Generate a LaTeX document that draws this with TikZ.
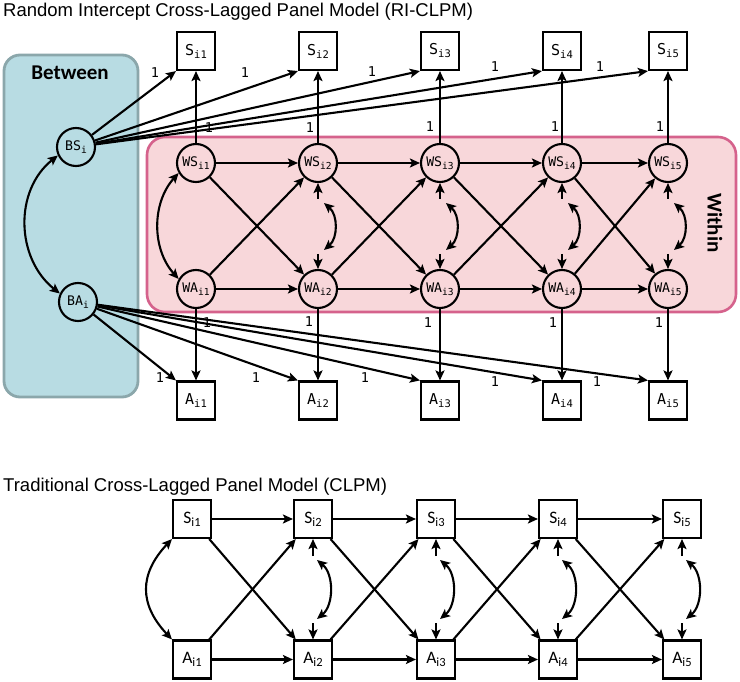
\documentclass[tikz,border=0pt]{standalone}
\usepackage{fontspec}
\setmainfont{Liberation Sans}
\newfontfamily\monof{DejaVu Sans Mono}
\newfontfamily\calf{Carlito}
\usetikzlibrary{arrows.meta,calc}
\definecolor{btwfill}{HTML}{B8DCE3}
\definecolor{btwline}{HTML}{8BA7AB}
\definecolor{winfill}{HTML}{F8D7DA}
\definecolor{winline}{HTML}{D5628C}
\newcommand{\rsl}[2]{{\monof\fontsize{15}{15}\selectfont #1\raisebox{-3pt}{\fontsize{10.5}{10.5}\selectfont #2}}}
\newcommand{\wsl}[2]{{\monof\fontsize{13.2}{13.2}\selectfont #1\raisebox{-2.6pt}{\fontsize{9.6}{9.6}\selectfont #2}}}
\newcommand{\csl}[2]{{\calf\fontsize{17.5}{17.5}\selectfont #1\raisebox{-3.2pt}{\fontsize{12.5}{12.5}\selectfont #2}}}
\tikzset{
  obs/.style={draw, line width=2.1pt, minimum size=38pt, inner sep=0pt},
  lat/.style={circle, draw, line width=2.1pt, minimum size=38pt, inner sep=0pt},
  arr/.style={line width=2.1pt, -{Stealth[length=10pt,width=9pt,inset=2.2pt]}},
  darr/.style={line width=2.1pt, {Stealth[length=10pt,width=9pt,inset=2.2pt]}-{Stealth[length=10pt,width=9pt,inset=2.2pt]}},
  one/.style={font=\monof\fontsize{13.5}{13.5}\selectfont, inner sep=0pt},
  ttl/.style={font=\fontsize{18.5}{18.5}\selectfont, anchor=base west, inner sep=0pt},
  grp/.style={font=\calf\bfseries\fontsize{21}{21}\selectfont, inner sep=0pt}
}
\begin{document}
\begin{tikzpicture}[x=1pt,y=-1pt]
\fill[white] (0,0) rectangle (740,682);
\useasboundingbox (0,0) rectangle (740,682);
% titles
\node[ttl] (t1) at (3,17) {Random Intercept Cross-Lagged Panel Model (RI-CLPM)};
\node[ttl] (t2) at (3,491) {Traditional Cross-Lagged Panel Model (CLPM)};
% group boxes
\draw[rounded corners=16pt, fill=btwfill, draw=btwline, line width=2.8pt] (4,55) rectangle (138,397);
\draw[rounded corners=18pt, fill=winfill, draw=winline, line width=2.6pt] (147,137) rectangle (736,312);
\node[grp] (between) at (70,73) {Between};
\node[grp, rotate=-90] (within) at (715,223) {Within};
% between nodes
\node[lat] (BS) at (76,147) {\wsl{BS}{i}};
\node[lat] (BA) at (78,302) {\wsl{BA}{i}};
% RI-CLPM nodes
\foreach \i/\x in {1/196,2/318,3/440,4/562,5/668} {
  \node[obs] (S\i) at (\x,51) {\rsl{S}{i\i}};
  \node[lat] (WS\i) at (\x,163) {\wsl{WS}{i\i}};
  \node[lat] (WA\i) at (\x,289) {\wsl{WA}{i\i}};
  \node[obs] (A\i) at (\x,400.5) {\rsl{A}{i\i}};
  \draw[arr] (BS) -- (S\i.south west);
  \draw[arr] (BA) -- (A\i.north west);
  \draw[arr] (WS\i) -- (S\i);
  \draw[arr] (WA\i) -- (A\i);
}
\foreach \i/\j in {1/2,2/3,3/4,4/5} {
  \draw[arr] (WS\i) -- (WS\j);
  \draw[arr] (WA\i) -- (WA\j);
  \draw[arr] (WS\i) -- (WA\j);
  \draw[arr] (WA\i) -- (WS\j);
}
\foreach \i/\x in {2/318,3/440,4/562,5/668} {
  \coordinate (rt\i) at (\x,199);
  \coordinate (rb\i) at (\x,254);
  \draw[arr] (rt\i) -- (WS\i);
  \draw[arr] (rb\i) -- (WA\i);
  \draw[darr] ($(rt\i)+(6,4)$) .. controls +(14,12) and +(14,-12) .. ($(rb\i)+(6,-4)$);
}
\draw[darr] (WS1.210) .. controls +(-27,30) and +(-27,-30) .. (WA1.150);
\draw[darr] (BS.205) .. controls +(-44,35) and +(-44,-35) .. (BA.155);
% labels "1"
\foreach \n/\x/\y in {b1/155/73, b2/245/73, b3/372/72, b4/495/67, b5/600/67,
  w1/209/128, w2/310/128, w3/430/127, w4/555/127, w5/660/127,
  v1/207/323, v2/309/322, v3/428/323, v4/553/323, v5/659/323,
  c1/160/378, c2/256/378, c3/365/378, c4/495/382, c5/597/382} {
  \node[one] (l\n) at (\x,\y) {1};
}
% CLPM
\foreach \i/\x in {1/192,2/313,3/436,4/558,5/682} {
  \node[obs] (CS\i) at (\x,519) {\csl{S}{i\i}};
  \node[obs] (CA\i) at (\x,659.5) {\csl{A}{i\i}};
}
\foreach \i/\j in {1/2,2/3,3/4,4/5} {
  \draw[arr] (CS\i) -- (CS\j);
  \draw[arr] (CA\i) -- (CA\j);
  \draw[arr] (CS\i) -- (CA\j);
  \draw[arr] (CA\i) -- (CS\j);
}
\foreach \i/\x in {2/313,3/436,4/558,5/682} {
  \coordinate (ct\i) at (\x,556);
  \coordinate (cb\i) at (\x,623);
  \draw[arr] (ct\i) -- (CS\i);
  \draw[arr] (cb\i) -- (CA\i);
  \draw[darr] ($(ct\i)+(4,4)$) .. controls +(17,14) and +(17,-14) .. ($(cb\i)+(4,-4)$);
}
\draw[darr] (CS1.south west) .. controls +(-33,35) and +(-33,-35) .. (CA1.north west);
\end{tikzpicture}
\end{document}
